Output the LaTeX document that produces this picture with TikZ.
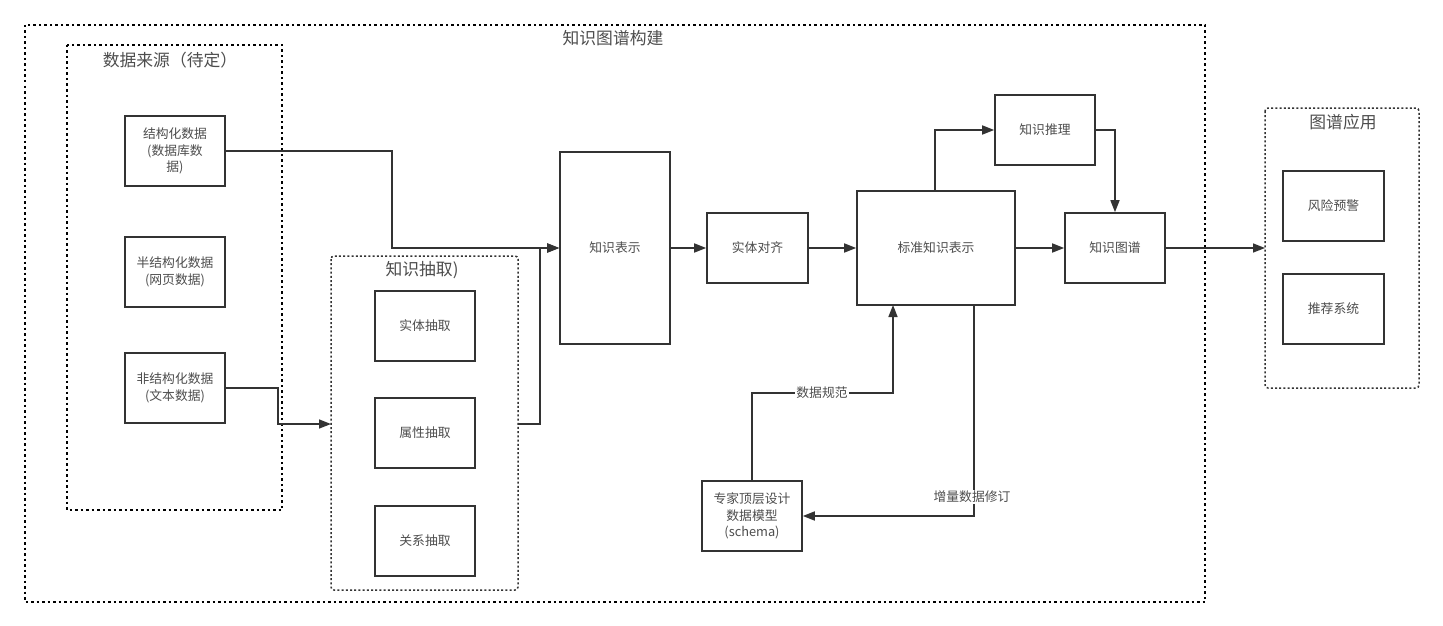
\documentclass[tikz,border=0pt]{standalone}
\usepackage{fontspec}
\setmainfont{Noto Sans CJK SC}
\usetikzlibrary{arrows.meta}
\definecolor{ln}{HTML}{333333}
\definecolor{tx}{HTML}{4D4D4D}
\begin{document}
\begin{tikzpicture}[x=1pt,y=-1pt,
  box/.style={draw=ln,line width=1.6pt,fill=white,text=tx,font=\fontsize{12.8}{16.5}\selectfont,align=center,inner sep=0pt},
  bigdots/.style={draw=black,line width=2pt,dash pattern=on 2.5pt off 3pt},
  smalldots/.style={draw=ln,line width=1.5pt,dash pattern=on 2pt off 2.2pt,rounded corners=3pt},
  ttl/.style={text=tx,font=\fontsize{16.8}{20}\selectfont,inner sep=0pt},
  conn/.style={draw=ln,line width=1.6pt,-{Triangle[length=12pt,width=9pt]}},
  lbl/.style={fill=white,text=tx,font=\fontsize{12.8}{15}\selectfont,inner sep=1pt}]
\useasboundingbox (0,0) rectangle (1443,626);
\fill[white] (0,0) rectangle (1443,626);
% containers
\draw[bigdots] (25,25) rectangle (1205,602);
\node[ttl] (tmain) at (613,38) {知识图谱构建};
\draw[bigdots] (67,45) rectangle (282,510);
\node[ttl] (tsrc) at (170,60) {数据来源（待定）};
\draw[smalldots] (331,256) rectangle (518,590);
\coordinate (exL) at (331,424);
\coordinate (exR) at (518,424);
\node[ttl] (tex) at (422,270) {知识抽取)};
\draw[smalldots] (1265,108) rectangle (1419,388);
\coordinate (appL) at (1265,248);
\node[ttl] (tapp) at (1343,122) {图谱应用};
% boxes
\node[box,minimum width=100pt,minimum height=70pt] (s1) at (175,151) {结构化数据\\(数据库数\\据)};
\node[box,minimum width=100pt,minimum height=70pt] (s2) at (175,272) {半结构化数据\\(网页数据)};
\node[box,minimum width=100pt,minimum height=70pt] (s3) at (175,388) {非结构化数据\\(文本数据)};
\node[box,minimum width=100pt,minimum height=70pt] (e1) at (425,326) {实体抽取};
\node[box,minimum width=100pt,minimum height=70pt] (e2) at (425,433) {属性抽取};
\node[box,minimum width=100pt,minimum height=70pt] (e3) at (425,541) {关系抽取};
\node[box,minimum width=110pt,minimum height=192pt] (kr) at (615,248) {知识表示};
\node[box,minimum width=101pt,minimum height=70pt] (ea) at (757.5,248) {实体对齐};
\node[box,minimum width=158pt,minimum height=114pt] (std) at (936,248) {标准知识表示};
\node[box,minimum width=100pt,minimum height=70pt] (inf) at (1045,130) {知识推理};
\node[box,minimum width=100pt,minimum height=70pt] (kg) at (1115,248) {知识图谱};
\node[box,minimum width=100pt,minimum height=70pt] (exp) at (752,516) {专家顶层设计\\数据模型\\(schema)};
\node[box,minimum width=101pt,minimum height=70pt] (a1) at (1333.5,206) {风险预警};
\node[box,minimum width=101pt,minimum height=70pt] (a2) at (1333.5,309) {推荐系统};
% connectors
\draw[conn] (s1.east) -- (392,151) -- (392,248) -- (kr.west);
\draw[conn] (s3.east) -- (278,388) -- (278,424) -- (exL);
\draw[conn] (exR) -- (540,424) -- (540,248) -- (kr.west);
\draw[conn] (kr.east) -- (ea.west);
\draw[conn] (ea.east) -- (std.west);
\draw[conn] (std.north -| 935,0) -- (935,130) -- (inf.west);
\draw[conn] (inf.east) -- (1115,130) -- (kg.north);
\draw[conn] (std.east) -- (kg.west);
\draw[conn] (kg.east) -- (appL);
\draw[conn] (exp.north) -- (752,393) -- (893,393) -- (893,305);
\node[lbl] (l1) at (822,393) {数据规范};
\draw[conn] (974,305) -- (974,516) -- (exp.east);
\node[lbl] (l2) at (972,497) {增量数据修订};
\end{tikzpicture}
\end{document}
